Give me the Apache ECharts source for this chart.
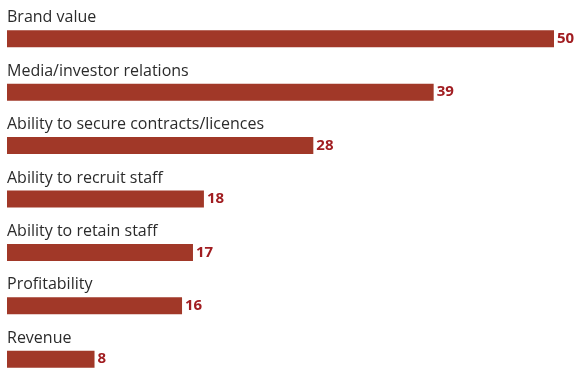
<!DOCTYPE html>
<html>
<head>
<meta charset="utf-8">
<script src="https://cdn.jsdelivr.net/npm/echarts@6/dist/echarts.min.js"></script>
<style>
  html, body { margin: 0; padding: 0; background: #fff; }
  #chart { width: 574px; height: 369px; }
</style>
</head>
<body>
<div id="chart"></div>
<script>
// Reasons given, share of respondents (%)
const categories = [
  'Brand value',
  'Media/investor relations',
  'Ability to secure contracts/licences',
  'Ability to recruit staff',
  'Ability to retain staff',
  'Profitability',
  'Revenue'
];
const values = [50, 39, 28, 18, 17, 16, 8];

const chart = echarts.init(document.getElementById('chart'), null, { renderer: 'canvas' });

chart.setOption({
  animation: false,
  // categories sit on the tick points so the first and last bars reach the edges
  grid: { left: 7, top: 38.8, width: 547, height: 320.4 },
  xAxis: {
    type: 'value', min: 0, max: 50,
    show: false
  },
  yAxis: {
    type: 'category',
    data: categories,
    inverse: true,
    boundaryGap: false,
    axisLine: { show: false },
    axisTick: { show: false },
    splitLine: { show: false },
    axisLabel: {
      inside: true,
      margin: 0,
      align: 'left',
      verticalAlign: 'bottom',
      padding: [0, 0, 13, 0],
      fontFamily: 'Open Sans',
      fontSize: 16,
      color: '#2b2b2b'
    }
  },
  series: [{
    type: 'bar',
    data: values,
    barWidth: 17,
    itemStyle: { color: '#a13828' },
    label: {
      show: true,
      position: 'right',
      distance: 3,
      fontFamily: 'Open Sans',
      fontWeight: 'bold',
      fontSize: 15,
      color: '#a11d21'
    }
  }]
});
</script>
</body>
</html>
